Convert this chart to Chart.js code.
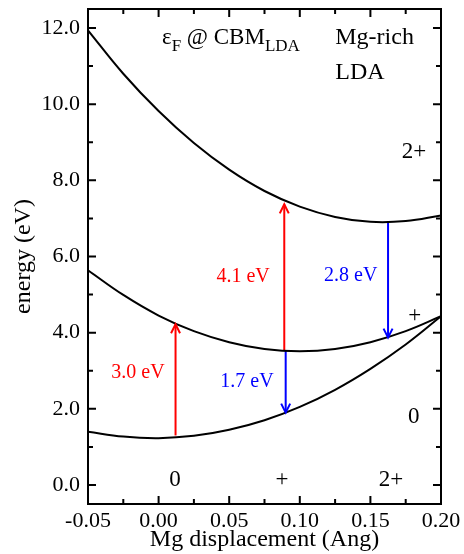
<!DOCTYPE html>
<html>
<head>
<meta charset="utf-8">
<script src="https://cdn.jsdelivr.net/npm/chart.js@4.4.0/dist/chart.umd.min.js"></script>
<style>
html, body { margin: 0; padding: 0; background: #fff; }
canvas { display: block; }
</style>
</head>
<body>
<canvas id="chart" width="464" height="554"></canvas>
<script>
// values
const displacement = [-0.05, -0.025, 0, 0.025, 0.05, 0.075, 0.1, 0.125, 0.15, 0.175, 0.2];
const energyNeutral = [1.40, 1.27, 1.23, 1.29, 1.45, 1.70, 2.05, 2.50, 3.05, 3.69, 4.43];
const energyPlus = [5.64, 4.99, 4.45, 4.04, 3.75, 3.57, 3.51, 3.57, 3.75, 4.04, 4.43];
const energy2Plus = [11.94, 10.80, 9.82, 8.98, 8.28, 7.72, 7.31, 7.04, 6.91, 6.93, 7.08];

// transitions (vertical arrows)
const arrowX = [0.012, 0.089, 0.090, 0.1625];
const arrowFrom = [1.30, 3.52, 3.52, 6.91];
const arrowTo = [4.22, 7.37, 1.90, 3.87];
const arrowLabels = ['3.0 eV', '4.1 eV', '1.7 eV', '2.8 eV'];
const arrowColors = ['#ff0000', '#ff0000', '#0000ff', '#0000ff'];

// axes
const xTicks = [-0.05, 0, 0.05, 0.1, 0.15, 0.2];
const xTickLabels = ['-0.05', '0.00', '0.05', '0.10', '0.15', '0.20'];
const xMinor = [-0.025, 0.025, 0.075, 0.125, 0.175];
const yTicks = [0, 2, 4, 6, 8, 10, 12];
const yTickLabels = ['0.0', '2.0', '4.0', '6.0', '8.0', '10.0', '12.0'];
const yMinor = [1, 3, 5, 7, 9, 11];

const FONT = '"Liberation Serif", "Times New Roman", serif';
Chart.defaults.font.family = FONT;
Chart.defaults.color = '#000';

function curve(values) {
    return {
        data: displacement.map((x, i) => ({ x: x, y: values[i] })),
        borderColor: '#000',
        borderWidth: 2,
        pointRadius: 0,
        tension: 0.4,
        fill: false
    };
}

const arrowSets = arrowX.map((x, i) => ({
    data: [{ x: x, y: arrowFrom[i] }, { x: x, y: arrowTo[i] }],
    borderColor: arrowColors[i],
    borderWidth: 2,
    pointRadius: 0,
    fill: false
}));

// text placed in data units
const notes = [
    { text: 'Mg-rich', x: 0.1251, y: 11.57, size: 24, align: 'left' },
    { text: 'LDA', x: 0.1251, y: 10.67, size: 24, align: 'left' },
    { text: '2+', x: 0.1809, y: 8.60, size: 23, align: 'center' },
    { text: '+', x: 0.1814, y: 4.27, size: 23, align: 'center' },
    { text: '0', x: 0.1807, y: 1.64, size: 23, align: 'center' },
    { text: '0', x: 0.0116, y: -0.04, size: 23, align: 'center' },
    { text: '+', x: 0.0874, y: -0.04, size: 23, align: 'center' },
    { text: '2+', x: 0.1646, y: -0.04, size: 23, align: 'center' },
    { text: arrowLabels[0], x: -0.0146, y: 2.80, size: 20, align: 'center', color: arrowColors[0] },
    { text: arrowLabels[1], x: 0.0598, y: 5.34, size: 20, align: 'center', color: arrowColors[1] },
    { text: arrowLabels[2], x: 0.0626, y: 2.56, size: 20, align: 'center', color: arrowColors[2] },
    { text: arrowLabels[3], x: 0.1361, y: 5.35, size: 20, align: 'center', color: arrowColors[3] }
];

const decor = {
    id: 'decor',
    afterDatasetsDraw(chart) {
        const ctx = chart.ctx;
        const a = chart.chartArea;
        const xs = chart.scales.x;
        const ys = chart.scales.y;
        ctx.save();

        // arrow heads
        arrowX.forEach((x, i) => {
            const px = xs.getPixelForValue(x);
            const py = ys.getPixelForValue(arrowTo[i]);
            const dir = arrowTo[i] > arrowFrom[i] ? 1 : -1;
            ctx.strokeStyle = arrowColors[i];
            ctx.lineWidth = 2;
            ctx.beginPath();
            ctx.moveTo(px - 4.5, py + dir * 9);
            ctx.lineTo(px, py);
            ctx.lineTo(px + 4.5, py + dir * 9);
            ctx.stroke();
        });

        // frame + inward ticks
        ctx.strokeStyle = '#000';
        ctx.lineWidth = 2;
        ctx.strokeRect(a.left, a.top, a.right - a.left, a.bottom - a.top);
        ctx.beginPath();
        const tickX = (v, len) => {
            const p = xs.getPixelForValue(v);
            ctx.moveTo(p, a.bottom); ctx.lineTo(p, a.bottom - len);
            ctx.moveTo(p, a.top); ctx.lineTo(p, a.top + len);
        };
        const tickY = (v, len) => {
            const p = ys.getPixelForValue(v);
            ctx.moveTo(a.left, p); ctx.lineTo(a.left + len, p);
            ctx.moveTo(a.right, p); ctx.lineTo(a.right - len, p);
        };
        xTicks.forEach(v => tickX(v, 8));
        xMinor.forEach(v => tickX(v, 5));
        yTicks.forEach(v => tickY(v, 8));
        yMinor.forEach(v => tickY(v, 5));
        ctx.stroke();

        // labels
        ctx.textBaseline = 'alphabetic';
        notes.forEach(n => {
            ctx.font = n.size + 'px ' + FONT;
            ctx.fillStyle = n.color || '#000';
            ctx.textAlign = n.align;
            ctx.fillText(n.text, xs.getPixelForValue(n.x), ys.getPixelForValue(n.y));
        });

        // eps_F @ CBM_LDA
        ctx.fillStyle = '#000';
        ctx.textAlign = 'left';
        let tx = xs.getPixelForValue(0.0024);
        const ty = ys.getPixelForValue(11.57);
        const parts = [['ε', 23, 0], ['F', 17, 7], [' @ CBM', 23, 0], ['LDA', 17, 7]];
        parts.forEach(([s, size, dy]) => {
            ctx.font = size + 'px ' + FONT;
            ctx.fillText(s, tx, ty + dy);
            tx += ctx.measureText(s).width;
        });

        ctx.restore();
    }
};

new Chart(document.getElementById('chart'), {
    type: 'line',
    data: {
        datasets: [curve(energyNeutral), curve(energyPlus), curve(energy2Plus)].concat(arrowSets)
    },
    options: {
        responsive: false,
        animation: false,
        devicePixelRatio: 1,
        layout: { padding: { left: 0, right: 23, top: 9, bottom: 0 } },
        plugins: { legend: { display: false }, tooltip: { enabled: false } },
        scales: {
            x: {
                type: 'linear',
                min: -0.05,
                max: 0.2,
                grid: { display: false, drawTicks: false },
                border: { display: false },
                afterBuildTicks: s => { s.ticks = xTicks.map(v => ({ value: v })); },
                afterFit: s => { s.height = 50; s.paddingLeft = 0; s.paddingRight = 0; },
                ticks: {
                    autoSkip: false,
                    maxRotation: 0,
                    padding: 4,
                    color: '#000',
                    font: { size: 22 },
                    callback: (v, i) => xTickLabels[i]
                },
                title: {
                    display: true,
                    text: 'Mg displacement (Ang)',
                    color: '#000',
                    font: { size: 24, lineHeight: 1 },
                    padding: { top: 0, bottom: 2 }
                }
            },
            y: {
                type: 'linear',
                min: -0.5,
                max: 12.5,
                grid: { display: false, drawTicks: false },
                border: { display: false },
                afterBuildTicks: s => { s.ticks = yTicks.map(v => ({ value: v })); },
                afterFit: s => { s.width = 88; s.paddingTop = 0; s.paddingBottom = 0; },
                ticks: {
                    autoSkip: false,
                    padding: 8,
                    color: '#000',
                    font: { size: 22 },
                    callback: (v, i) => yTickLabels[i]
                },
                title: {
                    display: true,
                    text: 'energy (eV)',
                    color: '#000',
                    font: { size: 24, lineHeight: 1 },
                    padding: { top: 12, bottom: 0 }
                }
            }
        }
    },
    plugins: [decor]
});
</script>
</body>
</html>
